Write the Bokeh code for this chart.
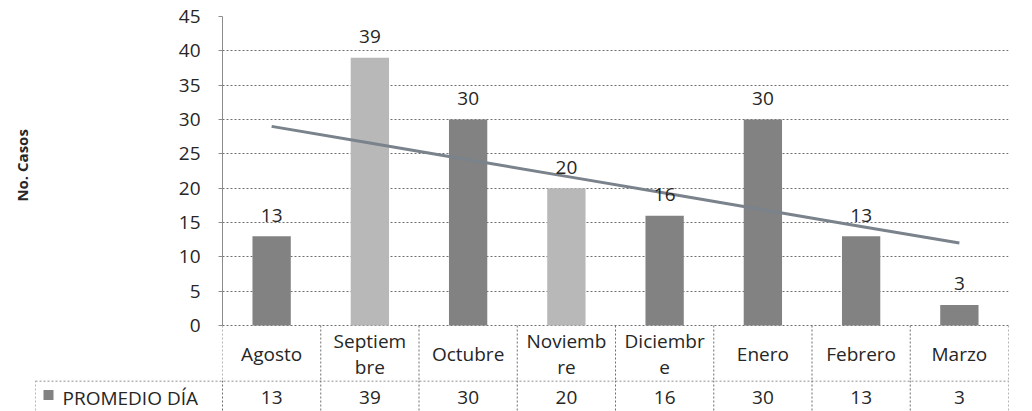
import numpy as np
from bokeh.plotting import figure
from bokeh.layouts import column
from bokeh.models import Range1d, FixedTicker, ColumnDataSource
from bokeh.core.properties import value
from bokeh.embed import file_html
from bokeh.resources import INLINE

# ---------------- data ----------------
months = ["Agosto", "Septiembre", "Octubre", "Noviembre", "Diciembre", "Enero", "Febrero", "Marzo"]
month_labels = ["Agosto", "Septiem\nbre", "Octubre", "Noviemb\nre", "Diciembr\ne", "Enero", "Febrero", "Marzo"]
promedio = [13, 39, 30, 20, 16, 30, 13, 3]
series_name = "PROMEDIO DÍA"
y_axis_title = "No. Casos"
y_ticks = [0, 5, 10, 15, 20, 25, 30, 35, 40, 45]

# ---------------- style ----------------
FONT = "Open Sans"
TXT = "#262626"
DARK = "#828282"
LIGHT = "#b8b8b8"
GRID = "#6e6e6e"
TREND = "#7a828c"
bar_colors = [DARK, LIGHT, DARK, LIGHT, DARK, DARK, DARK, DARK]
FS = "19px"

n = len(months)
pos = [i + 0.5 for i in range(n)]          # category centres
ymax = y_ticks[-1]
px_per_unit = 309 / ymax                     # chart: 45 units over 309 px
cat_px = 98.25                               # width of one category column
header_units = 55 / px_per_unit              # header row of the data table

# linear trend of the series (least squares, as Excel's trendline)
idx = np.arange(1, n + 1)
slope, intercept = np.polyfit(idx, promedio, 1)
trend = list(slope * idx + intercept)

# ---------------- chart + table header ----------------
top = figure(
    x_range=Range1d(0, n),
    y_range=Range1d(-header_units, ymax),
    width=1024, height=380,
    output_backend="svg", toolbar_location=None,
    min_border_left=222, min_border_right=16, min_border_top=16, min_border_bottom=0,
    background_fill_color="white", border_fill_color="white",
)
top.frame_align = False
top.outline_line_color = None
top.xaxis.visible = False
top.xgrid.visible = False
top.ygrid.ticker = FixedTicker(ticks=y_ticks)
top.ygrid.grid_line_color = GRID
top.ygrid.grid_line_dash = "2 2"
top.ygrid.grid_line_width = 1

ax = top.yaxis[0]
ax.ticker = FixedTicker(ticks=y_ticks)
ax.bounds = (0, ymax)
ax.axis_line_color = "#8c8c8c"
ax.major_tick_line_color = "#8c8c8c"
ax.major_tick_out = 4
ax.major_tick_in = 0
ax.minor_tick_line_color = None
ax.major_label_standoff = 18
ax.major_label_text_font = FONT
ax.major_label_text_font_size = FS
ax.major_label_text_color = TXT
# non-breaking padding shifts the title up so it sits beside the 0-45 scale
ax.axis_label = "\u00a0" * 17 + y_axis_title
ax.axis_label_text_font = FONT
ax.axis_label_text_font_size = "15px"
ax.axis_label_text_font_style = "bold"
ax.axis_label_text_color = TXT
ax.axis_label_standoff = 144

src = ColumnDataSource(dict(x=pos, month=months, val=promedio, color=bar_colors,
                            label=[str(v) for v in promedio]))
top.vbar(x="x", top="val", width=0.39, fill_color="color", line_color=None, source=src)
top.line(x=pos, y=trend, line_color=TREND, line_width=3)
top.text(x="x", y="val", text="label", source=src, text_align="center",
         text_baseline="alphabetic", y_offset=-21, text_font=value(FONT),
         text_font_size=FS, text_color=TXT)

# header row of the data table (category names)
top.segment(x0=list(range(n + 1)), y0=[0] * (n + 1), x1=list(range(n + 1)),
            y1=[-header_units - 1] * (n + 1), line_color=GRID, line_dash="2 2", line_width=1)
top.text(x=pos, y=[-28 / px_per_unit] * n, text=month_labels, text_align="center",
         text_baseline="middle", text_line_height=1.0, text_font=value(FONT),
         text_font_size=FS, text_color=TXT)

# ---------------- table: values row ----------------
legend_w = 187 / cat_px  # width of the legend cell, in category widths
bot = figure(
    x_range=Range1d(-legend_w, n), y_range=Range1d(-31, 0),
    width=1024, height=31,
    output_backend="svg", toolbar_location=None,
    min_border_left=35, min_border_right=16, min_border_top=0, min_border_bottom=0,
    background_fill_color="white", border_fill_color="white",
)
bot.frame_align = False
bot.outline_line_color = None
bot.axis.visible = False
bot.grid.visible = False

vx = [-legend_w] + list(range(n + 1))
bot.segment(x0=[-legend_w] + vx, y0=[-0.5] + [0] * len(vx),
            x1=[n] + vx, y1=[-0.5] + [-40] * len(vx),
            line_color=GRID, line_dash="2 2", line_width=1)
bot.text(x=pos, y=[-17] * n, text=[str(v) for v in promedio], text_align="center",
         text_baseline="middle", text_font=value(FONT), text_font_size=FS, text_color=TXT)

bot.scatter(x=[-legend_w + 13 / cat_px], y=[-14.5], marker="square", size=10,
            fill_color=DARK, line_color=None)
bot.text(x=[-legend_w + 27 / cat_px], y=[-17], text=[series_name], text_align="left",
         text_baseline="middle", text_font=value(FONT), text_font_size=FS, text_color=TXT)

p = column(top, bot, spacing=0)
open("out.html", "w").write(file_html(p, INLINE))
